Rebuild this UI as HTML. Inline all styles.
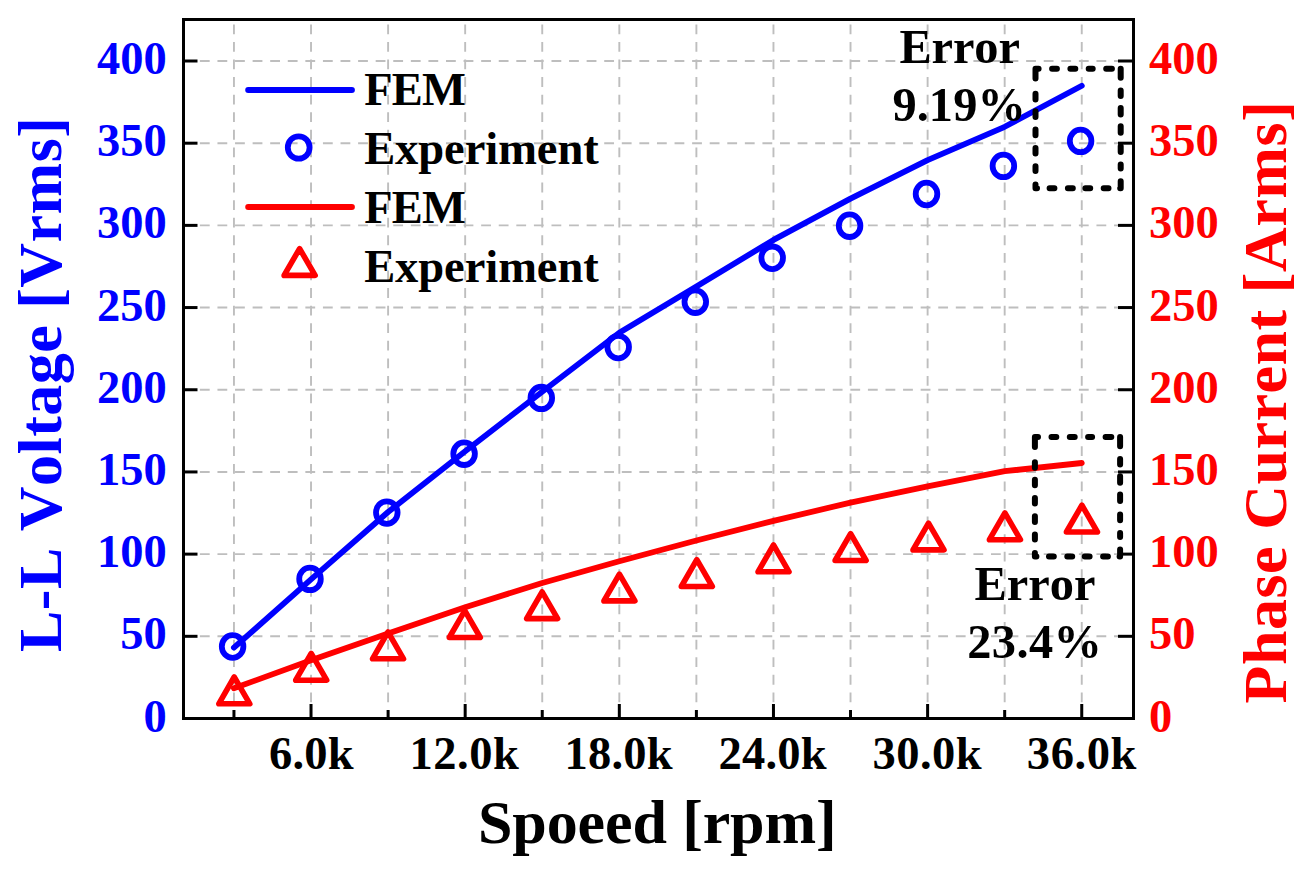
<!DOCTYPE html>
<html><head><meta charset="utf-8"><title>chart</title>
<style>html,body{margin:0;padding:0;background:#fff;}body{width:1315px;height:871px;overflow:hidden;font-family:"Liberation Serif",serif;}svg{display:block}text{font-kerning:none;font-variant-ligatures:none;white-space:pre}</style>
</head><body>
<svg width="1315" height="871" viewBox="0 0 1315 871">
<rect width="1315" height="871" fill="#fff"/>
<g stroke="#bebebe" stroke-width="1.9" fill="none">
<line x1="233.95" y1="719.8" x2="233.95" y2="20" stroke-dasharray="9.8 7.78"/>
<line x1="311.02" y1="719.8" x2="311.02" y2="20" stroke-dasharray="9.8 7.78"/>
<line x1="388.10" y1="719.8" x2="388.10" y2="20" stroke-dasharray="9.8 7.78"/>
<line x1="465.17" y1="719.8" x2="465.17" y2="20" stroke-dasharray="9.8 7.78"/>
<line x1="542.24" y1="719.8" x2="542.24" y2="20" stroke-dasharray="9.8 7.78"/>
<line x1="619.32" y1="719.8" x2="619.32" y2="20" stroke-dasharray="9.8 7.78"/>
<line x1="696.39" y1="719.8" x2="696.39" y2="20" stroke-dasharray="9.8 7.78"/>
<line x1="773.46" y1="719.8" x2="773.46" y2="20" stroke-dasharray="9.8 7.78"/>
<line x1="850.53" y1="719.8" x2="850.53" y2="20" stroke-dasharray="9.8 7.78"/>
<line x1="927.61" y1="719.8" x2="927.61" y2="20" stroke-dasharray="9.8 7.78"/>
<line x1="1004.68" y1="719.8" x2="1004.68" y2="20" stroke-dasharray="9.8 7.78"/>
<line x1="1081.75" y1="719.8" x2="1081.75" y2="20" stroke-dasharray="9.8 7.78"/>
<line x1="182.3" y1="636.31" x2="1132" y2="636.31" stroke-dasharray="9.8 7.78"/>
<line x1="182.3" y1="554.12" x2="1132" y2="554.12" stroke-dasharray="9.8 7.78"/>
<line x1="182.3" y1="471.94" x2="1132" y2="471.94" stroke-dasharray="9.8 7.78"/>
<line x1="182.3" y1="389.75" x2="1132" y2="389.75" stroke-dasharray="9.8 7.78"/>
<line x1="182.3" y1="307.56" x2="1132" y2="307.56" stroke-dasharray="9.8 7.78"/>
<line x1="182.3" y1="225.38" x2="1132" y2="225.38" stroke-dasharray="9.8 7.78"/>
<line x1="182.3" y1="143.19" x2="1132" y2="143.19" stroke-dasharray="9.8 7.78"/>
<line x1="182.3" y1="61.00" x2="1132" y2="61.00" stroke-dasharray="9.8 7.78"/>
</g>
<rect x="183.5" y="19.5" width="950.0" height="699.0" fill="none" stroke="#000" stroke-width="3"/>
<g stroke="#000" stroke-width="3" stroke-linecap="butt">
<line x1="183.5" y1="636.31" x2="197.5" y2="636.31"/>
<line x1="1133.5" y1="636.31" x2="1118" y2="636.31"/>
<line x1="183.5" y1="554.12" x2="197.5" y2="554.12"/>
<line x1="1133.5" y1="554.12" x2="1118" y2="554.12"/>
<line x1="183.5" y1="471.94" x2="197.5" y2="471.94"/>
<line x1="1133.5" y1="471.94" x2="1118" y2="471.94"/>
<line x1="183.5" y1="389.75" x2="197.5" y2="389.75"/>
<line x1="1133.5" y1="389.75" x2="1118" y2="389.75"/>
<line x1="183.5" y1="307.56" x2="197.5" y2="307.56"/>
<line x1="1133.5" y1="307.56" x2="1118" y2="307.56"/>
<line x1="183.5" y1="225.38" x2="197.5" y2="225.38"/>
<line x1="1133.5" y1="225.38" x2="1118" y2="225.38"/>
<line x1="183.5" y1="143.19" x2="197.5" y2="143.19"/>
<line x1="1133.5" y1="143.19" x2="1118" y2="143.19"/>
<line x1="183.5" y1="61.00" x2="197.5" y2="61.00"/>
<line x1="1133.5" y1="61.00" x2="1118" y2="61.00"/>
<line x1="233.95" y1="718.5" x2="233.95" y2="710.0"/>
<line x1="311.02" y1="718.5" x2="311.02" y2="704.0"/>
<line x1="388.10" y1="718.5" x2="388.10" y2="710.0"/>
<line x1="465.17" y1="718.5" x2="465.17" y2="704.0"/>
<line x1="542.24" y1="718.5" x2="542.24" y2="710.0"/>
<line x1="619.32" y1="718.5" x2="619.32" y2="704.0"/>
<line x1="696.39" y1="718.5" x2="696.39" y2="710.0"/>
<line x1="773.46" y1="718.5" x2="773.46" y2="704.0"/>
<line x1="850.53" y1="718.5" x2="850.53" y2="710.0"/>
<line x1="927.61" y1="718.5" x2="927.61" y2="704.0"/>
<line x1="1004.68" y1="718.5" x2="1004.68" y2="710.0"/>
<line x1="1081.75" y1="718.5" x2="1081.75" y2="704.0"/>
</g>
<polyline points="233.9,647.6 311.0,579.3 388.1,512.0 465.2,451.2 542.2,391.7 619.3,332.7 696.4,286.5 773.5,239.9 850.5,198.6 927.6,160.1 1004.7,126.8 1081.8,85.8" fill="none" stroke="#0000ff" stroke-width="5.8" stroke-linejoin="round" stroke-linecap="round"/>
<ellipse cx="232.6" cy="646.5" rx="10.8" ry="11.3" fill="none" stroke="#0000ff" stroke-width="5.8"/>
<ellipse cx="310.0" cy="578.9" rx="10.8" ry="11.3" fill="none" stroke="#0000ff" stroke-width="5.8"/>
<ellipse cx="386.8" cy="512.6" rx="10.8" ry="11.3" fill="none" stroke="#0000ff" stroke-width="5.8"/>
<ellipse cx="464.1" cy="453.7" rx="10.8" ry="11.3" fill="none" stroke="#0000ff" stroke-width="5.8"/>
<ellipse cx="541.3" cy="397.9" rx="10.8" ry="11.3" fill="none" stroke="#0000ff" stroke-width="5.8"/>
<ellipse cx="618.2" cy="347.1" rx="10.8" ry="11.3" fill="none" stroke="#0000ff" stroke-width="5.8"/>
<ellipse cx="695.3" cy="301.7" rx="10.8" ry="11.3" fill="none" stroke="#0000ff" stroke-width="5.8"/>
<ellipse cx="772.2" cy="257.8" rx="10.8" ry="11.3" fill="none" stroke="#0000ff" stroke-width="5.8"/>
<ellipse cx="849.6" cy="225.7" rx="10.8" ry="11.3" fill="none" stroke="#0000ff" stroke-width="5.8"/>
<ellipse cx="926.5" cy="194.0" rx="10.8" ry="11.3" fill="none" stroke="#0000ff" stroke-width="5.8"/>
<ellipse cx="1003.4" cy="165.9" rx="10.8" ry="11.3" fill="none" stroke="#0000ff" stroke-width="5.8"/>
<ellipse cx="1080.6" cy="140.9" rx="10.8" ry="11.3" fill="none" stroke="#0000ff" stroke-width="5.8"/>
<polyline points="233.9,688.3 311.0,660.3 388.1,633.5 465.2,607.2 542.2,583.0 619.3,561.2 696.4,540.5 773.5,520.9 850.5,502.6 927.6,486.3 1004.7,471.2 1081.8,463.0" fill="none" stroke="#ff0000" stroke-width="5.8" stroke-linejoin="round" stroke-linecap="round"/>
<polygon points="234.2,677.0 249.8,703.8 218.8,703.8" fill="none" stroke="#ff0000" stroke-width="5.6" stroke-linejoin="round"/>
<polygon points="311.2,653.4 326.7,680.2 295.7,680.2" fill="none" stroke="#ff0000" stroke-width="5.6" stroke-linejoin="round"/>
<polygon points="388.0,632.0 403.5,658.8 372.5,658.8" fill="none" stroke="#ff0000" stroke-width="5.6" stroke-linejoin="round"/>
<polygon points="464.8,610.6 480.3,637.5 449.3,637.5" fill="none" stroke="#ff0000" stroke-width="5.6" stroke-linejoin="round"/>
<polygon points="542.1,591.8 557.6,618.6 526.6,618.6" fill="none" stroke="#ff0000" stroke-width="5.6" stroke-linejoin="round"/>
<polygon points="619.4,574.1 634.9,600.9 603.9,600.9" fill="none" stroke="#ff0000" stroke-width="5.6" stroke-linejoin="round"/>
<polygon points="696.8,559.6 712.3,586.5 681.3,586.5" fill="none" stroke="#ff0000" stroke-width="5.6" stroke-linejoin="round"/>
<polygon points="773.5,545.0 789.0,571.8 758.0,571.8" fill="none" stroke="#ff0000" stroke-width="5.6" stroke-linejoin="round"/>
<polygon points="850.6,533.7 866.1,560.5 835.1,560.5" fill="none" stroke="#ff0000" stroke-width="5.6" stroke-linejoin="round"/>
<polygon points="928.5,523.1 944.0,549.9 913.0,549.9" fill="none" stroke="#ff0000" stroke-width="5.6" stroke-linejoin="round"/>
<polygon points="1004.9,512.9 1020.4,539.7 989.4,539.7" fill="none" stroke="#ff0000" stroke-width="5.6" stroke-linejoin="round"/>
<polygon points="1081.9,505.2 1097.4,532.0 1066.4,532.0" fill="none" stroke="#ff0000" stroke-width="5.6" stroke-linejoin="round"/>
<path d="M1035.5 68.7L1038.6 68.7 M1052.1 68.7L1056.9 68.7 M1070.4 68.7L1075.3 68.7 M1088.7 68.7L1092.7 68.7 M1106.2 68.7L1111.9 68.7 M1120.7 68.7L1120.7 77.8 M1120.7 90.5L1120.7 96.1 M1120.7 107.9L1120.7 114.4 M1120.7 126.2L1120.7 132.7 M1120.7 146.2L1120.7 151.9 M1120.7 164.5L1120.7 168.5 M1120.7 181.2L1120.7 188.2 M1035.5 188.2L1037.0 188.2 M1049.6 188.2L1054.4 188.2 M1067.9 188.2L1072.8 188.2 M1085.4 188.2L1090.2 188.2 M1103.7 188.2L1108.5 188.2 M1120.2 188.2L1120.7 188.2 M1035.5 68.7L1035.5 78.6 M1035.5 93.8L1035.5 99.4 M1035.5 111.3L1035.5 116.9 M1035.5 129.6L1035.5 135.2 M1035.5 147.9L1035.5 153.5 M1035.5 166.2L1035.5 171.0 M1035.5 184.5L1035.5 188.2" fill="none" stroke="#000" stroke-width="6" stroke-linecap="round"/>
<path d="M1034.9 437.0L1038.0 437.0 M1051.5 437.0L1056.3 437.0 M1069.8 437.0L1074.7 437.0 M1088.1 437.0L1092.1 437.0 M1105.6 437.0L1111.3 437.0 M1120.1 437.0L1120.1 446.2 M1120.1 458.9L1120.1 464.5 M1120.1 476.3L1120.1 482.8 M1120.1 494.6L1120.1 501.1 M1120.1 514.6L1120.1 520.3 M1120.1 532.9L1120.1 536.9 M1120.1 549.6L1120.1 556.6 M1034.9 556.6L1036.4 556.6 M1049.0 556.6L1053.8 556.6 M1067.3 556.6L1072.2 556.6 M1084.8 556.6L1089.6 556.6 M1103.1 556.6L1107.9 556.6 M1119.6 556.6L1120.1 556.6 M1034.9 437.0L1034.9 447.0 M1034.9 462.2L1034.9 467.8 M1034.9 479.7L1034.9 485.3 M1034.9 498.0L1034.9 503.6 M1034.9 516.3L1034.9 521.9 M1034.9 534.6L1034.9 539.4 M1034.9 552.9L1034.9 556.6" fill="none" stroke="#000" stroke-width="6" stroke-linecap="round"/>
<line x1="248.2" y1="89.9" x2="351.9" y2="89.9" stroke="#0000ff" stroke-width="6" stroke-linecap="round"/>
<ellipse cx="298.7" cy="147.5" rx="10.9" ry="11.2" fill="none" stroke="#0000ff" stroke-width="5.8"/>
<line x1="248.2" y1="207" x2="351.9" y2="207" stroke="#ff0000" stroke-width="6" stroke-linecap="round"/>
<polygon points="299.6,248.6 315.1,275.4 284.1,275.4" fill="none" stroke="#ff0000" stroke-width="5.6" stroke-linejoin="round"/>
<text x="364.14" y="104.60" id="fem1" font-family="Liberation Serif" font-weight="bold" font-size="46.5" fill="#000" letter-spacing="-0.802">FEM</text>
<text x="364.14" y="163.60" id="exp1" font-family="Liberation Serif" font-weight="bold" font-size="46.5" fill="#000" letter-spacing="-0.052">Experiment</text>
<text x="364.14" y="222.70" id="fem2" font-family="Liberation Serif" font-weight="bold" font-size="46.5" fill="#000" letter-spacing="-0.802">FEM</text>
<text x="364.14" y="281.70" id="exp2" font-family="Liberation Serif" font-weight="bold" font-size="46.5" fill="#000" letter-spacing="-0.052">Experiment</text>
<text x="899.42" y="62.90" id="err1" font-family="Liberation Serif" font-weight="bold" font-size="48.4" fill="#000" letter-spacing="-0.101">Error</text>
<text x="892.41" y="120.70" id="p919" font-family="Liberation Serif" font-weight="bold" font-size="48.4" fill="#000" letter-spacing="0.082">9.19%</text>
<text x="974.42" y="600.00" id="err2" font-family="Liberation Serif" font-weight="bold" font-size="48.4" fill="#000" letter-spacing="0.023">Error</text>
<text x="967.18" y="657.80" id="p234" font-family="Liberation Serif" font-weight="bold" font-size="48.4" fill="#000" letter-spacing="0.438">23.4%</text>
<text x="166.78" y="731.50" text-anchor="end" id="yl0" font-family="Liberation Serif" font-weight="bold" font-size="46.5" fill="#0000ff" letter-spacing="0.000">0</text>
<text x="1149.03" y="731.50" id="yr0" font-family="Liberation Serif" font-weight="bold" font-size="46.5" fill="#ff0000" letter-spacing="0.000">0</text>
<text x="166.78" y="649.31" text-anchor="end" id="yl50" font-family="Liberation Serif" font-weight="bold" font-size="46.5" fill="#0000ff" letter-spacing="0.000">50</text>
<text x="1149.03" y="649.31" id="yr50" font-family="Liberation Serif" font-weight="bold" font-size="46.5" fill="#ff0000" letter-spacing="0.000">50</text>
<text x="166.78" y="567.12" text-anchor="end" id="yl100" font-family="Liberation Serif" font-weight="bold" font-size="46.5" fill="#0000ff" letter-spacing="0.000">100</text>
<text x="1149.03" y="567.12" id="yr100" font-family="Liberation Serif" font-weight="bold" font-size="46.5" fill="#ff0000" letter-spacing="0.000">100</text>
<text x="166.78" y="484.94" text-anchor="end" id="yl150" font-family="Liberation Serif" font-weight="bold" font-size="46.5" fill="#0000ff" letter-spacing="0.000">150</text>
<text x="1149.03" y="484.94" id="yr150" font-family="Liberation Serif" font-weight="bold" font-size="46.5" fill="#ff0000" letter-spacing="0.000">150</text>
<text x="166.78" y="402.75" text-anchor="end" id="yl200" font-family="Liberation Serif" font-weight="bold" font-size="46.5" fill="#0000ff" letter-spacing="0.000">200</text>
<text x="1149.03" y="402.75" id="yr200" font-family="Liberation Serif" font-weight="bold" font-size="46.5" fill="#ff0000" letter-spacing="0.000">200</text>
<text x="166.78" y="320.56" text-anchor="end" id="yl250" font-family="Liberation Serif" font-weight="bold" font-size="46.5" fill="#0000ff" letter-spacing="0.000">250</text>
<text x="1149.03" y="320.56" id="yr250" font-family="Liberation Serif" font-weight="bold" font-size="46.5" fill="#ff0000" letter-spacing="0.000">250</text>
<text x="166.78" y="238.38" text-anchor="end" id="yl300" font-family="Liberation Serif" font-weight="bold" font-size="46.5" fill="#0000ff" letter-spacing="0.000">300</text>
<text x="1149.03" y="238.38" id="yr300" font-family="Liberation Serif" font-weight="bold" font-size="46.5" fill="#ff0000" letter-spacing="0.000">300</text>
<text x="166.78" y="156.19" text-anchor="end" id="yl350" font-family="Liberation Serif" font-weight="bold" font-size="46.5" fill="#0000ff" letter-spacing="0.000">350</text>
<text x="1149.03" y="156.19" id="yr350" font-family="Liberation Serif" font-weight="bold" font-size="46.5" fill="#ff0000" letter-spacing="0.000">350</text>
<text x="166.78" y="74.00" text-anchor="end" id="yl400" font-family="Liberation Serif" font-weight="bold" font-size="46.5" fill="#0000ff" letter-spacing="0.000">400</text>
<text x="1149.03" y="74.00" id="yr400" font-family="Liberation Serif" font-weight="bold" font-size="46.5" fill="#ff0000" letter-spacing="0.000">400</text>
<text x="269.06" y="769.10" id="x6" font-family="Liberation Serif" font-weight="bold" font-size="46.5" fill="#000" letter-spacing="0.207">6.0k</text>
<text x="409.48" y="769.10" id="x12" font-family="Liberation Serif" font-weight="bold" font-size="46.5" fill="#000" letter-spacing="0.548">12.0k</text>
<text x="564.45" y="769.10" id="x18" font-family="Liberation Serif" font-weight="bold" font-size="46.5" fill="#000" letter-spacing="0.256">18.0k</text>
<text x="718.43" y="769.10" id="x24" font-family="Liberation Serif" font-weight="bold" font-size="46.5" fill="#000" letter-spacing="0.237">24.0k</text>
<text x="872.48" y="769.10" id="x30" font-family="Liberation Serif" font-weight="bold" font-size="46.5" fill="#000" letter-spacing="0.487">30.0k</text>
<text x="1026.83" y="769.10" id="x36" font-family="Liberation Serif" font-weight="bold" font-size="46.5" fill="#000" letter-spacing="0.558">36.0k</text>
<text x="478.00" y="842.80" id="xt" font-family="Liberation Serif" font-weight="bold" font-size="62" fill="#000" letter-spacing="-0.117">Spoeed [rpm]</text>
<text transform="translate(61.30,652.00) rotate(-90)" id="ytl" font-family="Liberation Serif" font-weight="bold" font-size="62" fill="#0000ff" letter-spacing="0.473">L-L Voltage [Vrms]</text>
<text transform="translate(1285.80,703.52) rotate(-90)" id="ytr" font-family="Liberation Serif" font-weight="bold" font-size="62" fill="#ff0000" letter-spacing="0.527">Phase Current [Arms]</text>
</svg>
</body></html>
